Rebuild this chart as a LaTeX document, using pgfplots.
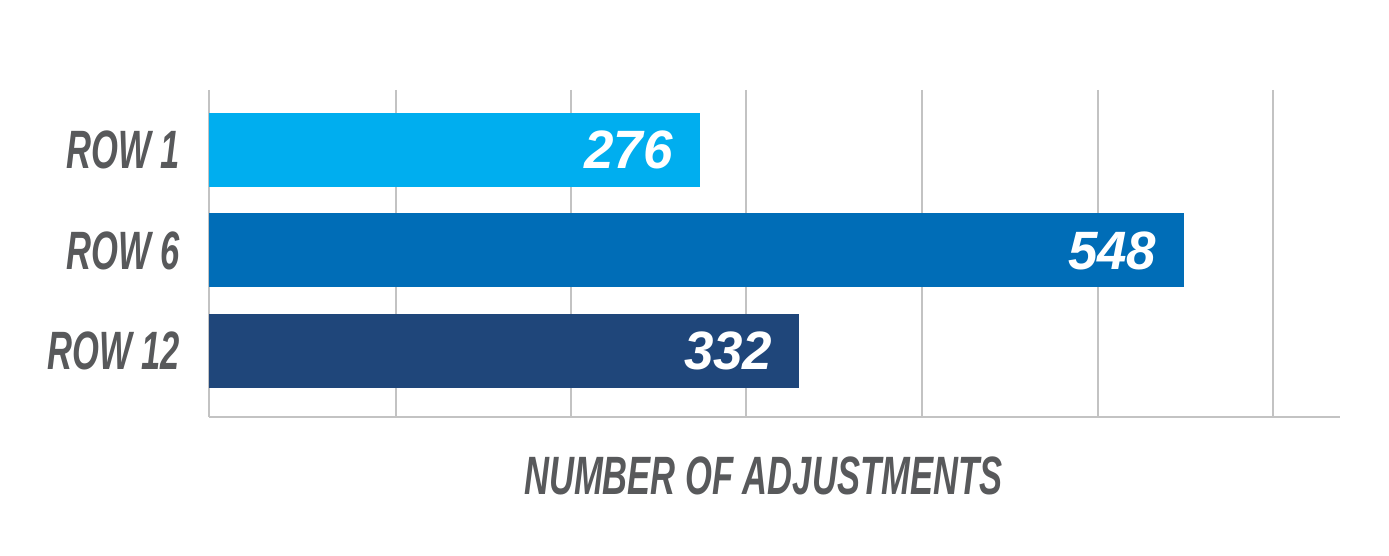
\documentclass[border=0pt]{standalone}
\usepackage{fontspec}
\setmainfont{Liberation Sans}[FakeStretch=0.64]
\newfontfamily\numfont{Liberation Sans}[FakeStretch=0.98]
\usepackage{pgfplots}
\pgfplotsset{compat=1.18}

\definecolor{rowone}{RGB}{0,174,239}
\definecolor{rowsix}{RGB}{0,109,183}
\definecolor{rowtwelve}{RGB}{31,70,122}
\definecolor{labelgray}{RGB}{88,89,91}
\definecolor{gridgray}{RGB}{195,195,195}

\newcommand{\lbl}{\fontsize{27}{27}\selectfont\bfseries\itshape}
\newcommand{\numlbl}{\numfont\fontsize{27}{27}\selectfont\bfseries\itshape}

\begin{document}
\begin{tikzpicture}
\useasboundingbox (-104.5pt,-69.5pt) rectangle (590pt,208.5pt);
\begin{axis}[
    scale only axis,
    width=565.5pt, height=163.5pt,
    xmin=0, xmax=636,
    ymin=-0.6, ymax=2.66,
    y dir=reverse,
    xbar, bar width=37pt, bar shift=0pt,
    axis x line*=bottom, axis y line*=left,
    axis line style={draw=gridgray, line width=1pt, -},
    % grid lines placed where the reference draws them
    xtick={105.2,203.7,302.2,400.7,499.7,598.2}, xticklabels={},
    xmajorgrids=true,
    grid style={draw=gridgray, line width=1pt},
    ytick={0,1,2},
    yticklabels={ROW 1, ROW 6, ROW 12},
    major tick length=0pt,
    tick style={draw=none},
    yticklabel style={font=\lbl, text=labelgray, xshift=-11pt},
    xlabel={NUMBER OF ADJUSTMENTS},
    xlabel style={font=\lbl, text=labelgray, at={(axis description cs:0.49,0)}, anchor=center, yshift=-29.5pt},
    /pgf/number format/assume math mode=true,
    nodes near coords,
    every node near coord/.append style={font=\numlbl, text=white, anchor=east, xshift=-10pt},
    point meta=x,
]
\addplot[fill=rowone, draw=none] coordinates {(276,0)};
\addplot[fill=rowsix, draw=none] coordinates {(548,1)};
\addplot[fill=rowtwelve, draw=none] coordinates {(332,2)};
\end{axis}
\end{tikzpicture}
\end{document}
